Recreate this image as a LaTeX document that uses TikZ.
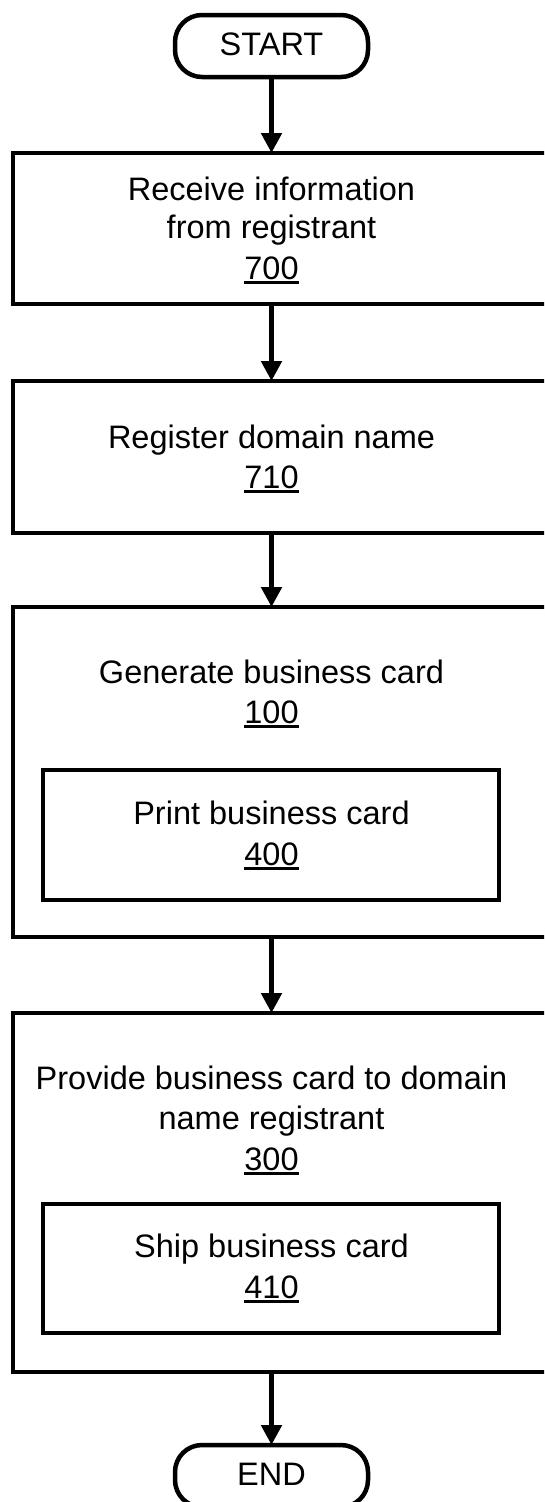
\documentclass[tikz,border=0pt]{standalone}
\usepackage{fontspec}
\setmainfont{Liberation Sans}
\usetikzlibrary{arrows.meta}
\newcommand\numul[1]{\setbox0\hbox{#1}\rlap{\rule[-4.5pt]{\wd0}{2.2pt}}\box0}
\tikzset{
  box/.style={draw, line width=4.5pt, inner sep=0pt, outer sep=0pt},
  term/.style={draw, line width=4.5pt, rounded corners=27pt, inner sep=0pt, outer sep=0pt,
    minimum width=193pt, minimum height=62pt},
  txt/.style={inner sep=0pt, anchor=base, font=\fontsize{32.5}{40}\selectfont},
  ttxt/.style={inner sep=0pt, anchor=base, font=\fontsize{32.5}{40}\selectfont},
  flow/.style={line width=5pt, -{Triangle[width=20pt,length=20pt]}}
}
\begin{document}
\begin{tikzpicture}[x=1pt,y=-1pt]
\useasboundingbox (0,0) rectangle (544,1502);
\clip (0,0) rectangle (544,1502);
\fill[white] (0,0) rectangle (544,1502);
% terminals
\node[term] (start) at (271.5,46) {};
\node[ttxt] (tstart) at (271.5,55) {START};
\node[term] (end) at (271.5,1476) {};
\node[ttxt] (tend) at (271.5,1485) {END};
% box 700
\node[box, minimum width=543pt, minimum height=151pt] (b700) at (284.5,228.5) {};
\node[txt] (t700a) at (271.5,200) {Receive information};
\node[txt] (t700b) at (271.5,238) {from registrant};
\node[txt] (t700c) at (271.5,279) {\numul{700}};
% box 710
\node[box, minimum width=543pt, minimum height=152pt] (b710) at (284.5,457) {};
\node[txt] (t710a) at (271.5,448) {Register domain name};
\node[txt] (t710b) at (271.5,488) {\numul{710}};
% box 100
\node[box, minimum width=543pt, minimum height=330pt] (b100) at (284.5,772) {};
\node[txt] (t100a) at (271.5,683) {Generate business card};
\node[txt] (t100b) at (271.5,723) {\numul{100}};
\node[box, minimum width=456pt, minimum height=130pt] (b400) at (271,835) {};
\node[txt] (t400a) at (271.5,824) {Print business card};
\node[txt] (t400b) at (271.5,865) {\numul{400}};
% box 300
\node[box, minimum width=543pt, minimum height=359pt] (b300) at (284.5,1192.5) {};
\node[txt] (t300a) at (271.5,1089) {Provide business card to domain};
\node[txt] (t300b) at (271.5,1129) {name registrant};
\node[txt] (t300c) at (271.5,1170) {\numul{300}};
\node[box, minimum width=456pt, minimum height=129pt] (b410) at (271,1268.5) {};
\node[txt] (t410a) at (271.5,1257) {Ship business card};
\node[txt] (t410b) at (271.5,1298) {\numul{410}};
% connectors
\draw[flow] (start.south) -- (b700.north -| start.south);
\draw[flow] (b700.south -| start.south) -- (b710.north -| start.south);
\draw[flow] (b710.south -| start.south) -- (b100.north -| start.south);
\draw[flow] (b100.south -| start.south) -- (b300.north -| start.south);
\draw[flow] (b300.south -| start.south) -- (end.north);
\end{tikzpicture}
\end{document}
